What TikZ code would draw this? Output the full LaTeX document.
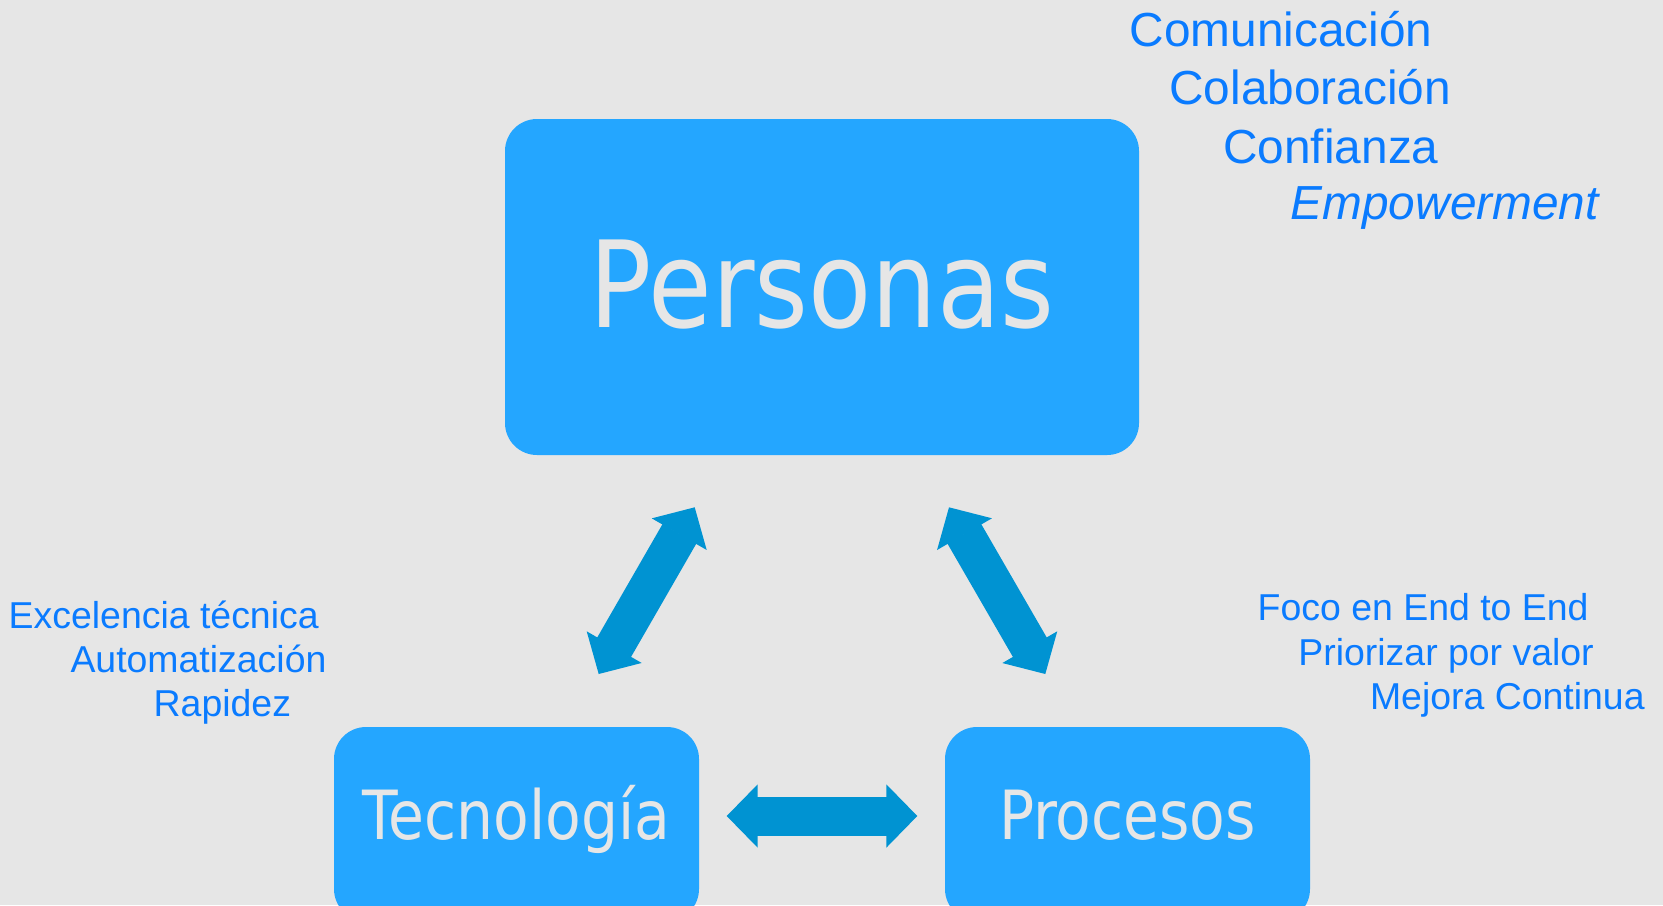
\documentclass[tikz,border=0pt]{standalone}
\usepackage{fontspec}
\setmainfont{Liberation Sans}
\newfontfamily\boxfont[FakeStretch=0.86]{DejaVu Sans}
\usetikzlibrary{arrows.meta}
\definecolor{bgcol}{HTML}{E6E6E6}
\definecolor{boxcol}{HTML}{24A6FF}
\definecolor{arrowcol}{HTML}{0093D2}
\definecolor{txtcol}{HTML}{0A7BFF}
\def\gap{0.27}

\begin{document}
\begin{tikzpicture}[
        bigtip/.tip={Triangle[length=0.31cm, width=0.63cm, line width=0.6pt]},
        bigbox/.style={fill=boxcol, rounded corners=0.32cm, inner sep=0pt, text=bgcol},
        smallbox/.style={bigbox, minimum width=3.65cm, minimum height=1.94cm, text height=14.07pt, text depth=5.3pt, font=\boxfont\fontsize{19.3}{23}\selectfont},
        bigarrow/.style={arrowcol, line width=0.39cm, bigtip-bigtip},
        item/.style={anchor=base west, inner sep=0pt, text=txtcol, font=\fontsize{10.65}{12}\selectfont},
        bigitem/.style={item, font=\fontsize{13.6}{16}\selectfont}
    ]
            \fill[bgcol] (0, 0) rectangle (16.63, 9.05);
            \useasboundingbox (0, 0) rectangle (16.63, 9.05);

            \node[bigbox, minimum width=6.34cm, minimum height=3.36cm, text height=24.9pt, text depth=2pt, font=\boxfont\fontsize{34.2}{40}\selectfont] (per) at (8.22, 6.18) {Personas};
            \node[smallbox] (tec) at (5.165, 0.81) {Tecnología};
            \node[smallbox] (pro) at (11.275, 0.81) {Procesos};

            \node[bigitem] (com) at (11.29, 8.583) {Comunicación};
            \node[bigitem] (col) at (11.687, 8.01) {Colaboración};
            \node[bigitem] (conf) at (12.226, 7.417) {Confianza};
            \node[bigitem, font=\itshape\fontsize{13.6}{16}\selectfont] (emp) at (12.90, 6.857) {Empowerment};

            \node[item] (exc) at (0.08, 2.767) {Excelencia técnica};
            \node[item] (aut) at (0.698, 2.327) {Automatización};
            \node[item] (rap) at (1.53, 1.883) {Rapidez};

            \node[item] (foco) at (12.57, 2.85) {Foco en End to End};
            \node[item] (prio) at (12.977, 2.40) {Priorizar por valor};
            \node[item] (mej) at (13.693, 1.957) {Mejora Continua};

            \coordinate (tl1) at (5.987, 2.31);
            \coordinate (tl2) at (6.947, 3.977);
            \coordinate (pr1) at (9.49, 3.977);
            \coordinate (pr2) at (10.453, 2.31);

            \draw[bigarrow] (tl1) -- (tl2);
            \draw[bigarrow] (pr1) -- (pr2);
            \draw[bigarrow] ([xshift=\gap cm, yshift=0.08cm]tec.east) -- ([xshift=-\gap cm, yshift=0.08cm]pro.west);
\end{tikzpicture}
\end{document}
